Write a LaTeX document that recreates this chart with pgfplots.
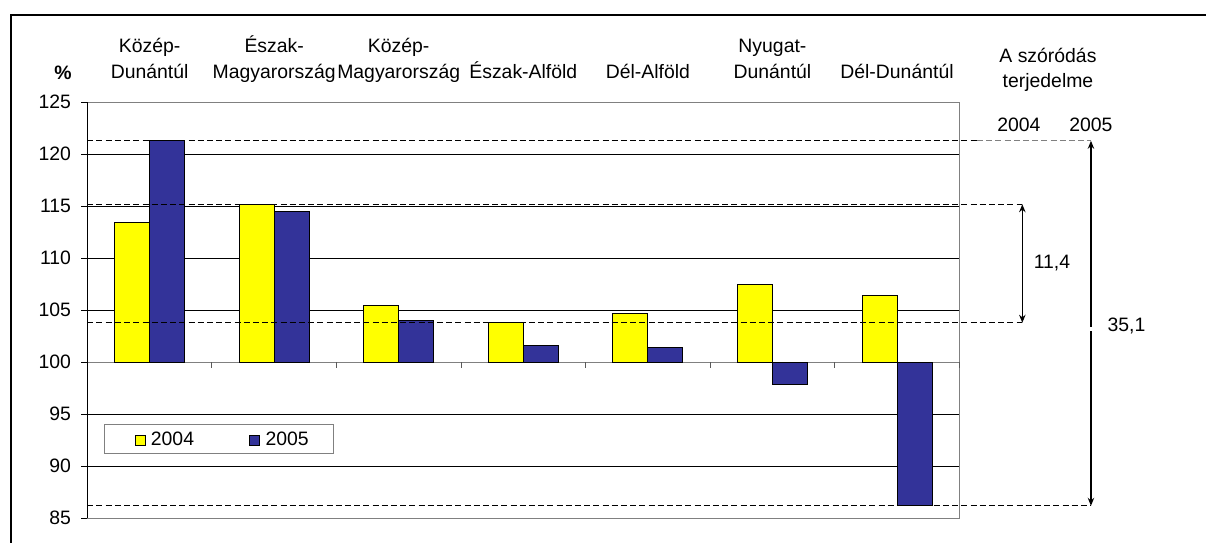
\documentclass[border=0pt]{standalone}
\usepackage{pgfplots}
\pgfplotsset{compat=1.18}
\usepackage{pgfplotstable}
\usepackage{fontspec}
\setmainfont{Liberation Sans}
\usetikzlibrary{arrows.meta}
\definecolor{barY}{RGB}{255,255,0}
\definecolor{barB}{RGB}{51,51,153}
\definecolor{frameGray}{RGB}{128,128,128}
\pgfplotsset{sqleg/.style={legend image code/.code={%
  \path[draw=none,fill=none] (-3pt,-4pt) (7.85pt,10.2pt);
  \draw[##1,line width=0.5pt] (0pt,-0.3pt) rectangle (5pt,4.7pt);}}}
\pgfplotstableread{
x y2004 y2005
0 113.4 121.3
1 115.2 114.5
2 105.5 104.0
3 103.8 101.6
4 104.7 101.4
5 107.5 97.9
6 106.4 86.2
}\datatable
\newcommand{\lblfont}{\fontsize{9.7}{12.85}\selectfont}
\begin{document}
\begin{tikzpicture}
\useasboundingbox (0,0) rectangle (603pt,271pt);
\draw[line width=0.6pt] (5.5pt,-2pt) -- (5.5pt,263.5pt) -- (605pt,263.5pt);
\begin{axis}[
  at={(43.65pt,11.85pt)}, anchor=south west,
  scale only axis, width=436pt, height=208pt,
  clip=false,
  xmin=-0.5, xmax=6.5, ymin=85, ymax=125,
  y coord trafo/.code={\pgfmathparse{#1-100}},
  y coord inv trafo/.code={\pgfmathparse{#1+100}},
  ytick={85,90,95,100,105,110,115,120,125},
  xtick={0,1,2,3,4,5,6},
  xticklabels={{Közép-\\Dunántúl\strut},{Észak-\\Magyarország\strut},{Közép-\\Magyarország\strut},{Észak-Alföld\strut},{Dél-Alföld\strut},{Nyugat-\\Dunántúl\strut},{Dél-Dunántúl\strut}},
  xticklabel pos=upper,
  xticklabel style={align=center, anchor=south, yshift=1.6pt},
  x tick style={draw=none},
  ytick pos=left,
  tick align=outside,
  major tick length=3pt,
  y tick style={black, line width=0.5pt},
  yticklabel style={xshift=-1.6pt},
  tick label style={font=\lblfont},
  /pgf/number format/assume math mode=true,
  axis line style={frameGray, line width=0.6pt},
  ymajorgrids,
  major grid style={black, line width=0.5pt},
  ybar=0pt, bar width=17.5pt,
  legend columns=2,
  legend style={at={(0.0187,0.226)}, anchor=north west, draw=frameGray, line width=0.6pt,
    font=\lblfont, inner xsep=12.5pt, inner ysep=0pt, row sep=0pt,
    cells={anchor=base west},
    nodes={inner xsep=0pt, inner ysep=0pt},
    /tikz/every even column/.append style={column sep=24.9pt}},
]
\draw[frameGray, line width=0.6pt] (axis cs:-0.5,100) -- (axis cs:6.5,100);
\addplot[fill=barY, draw=black, line width=0.5pt, sqleg] table[x=x, y=y2004] {\datatable};
\addlegendentry{2004}
\addplot[fill=barB, draw=black, line width=0.5pt, sqleg] table[x=x, y=y2005] {\datatable};
\addlegendentry{2005}
\draw[black, line width=0.6pt] (axis cs:-0.5,85) -- (axis cs:-0.5,125);
\pgfplotsinvokeforeach{0.5,1.5,2.5,3.5,4.5,5.5,6.5}{
  \draw[frameGray!70!black, line width=0.5pt] (axis cs:#1,100) -- ++(0pt,-3pt);
}
% dashed reference lines
\draw[black, line width=0.5pt, dash pattern=on 3pt off 1.6pt] (axis cs:-0.5,121.3) -- (axis cs:6.642,121.3);
\draw[frameGray, line width=0.4pt, dash pattern=on 3pt off 1.6pt] (axis cs:6.642,121.3) -- (axis cs:7.557,121.3);
\draw[black, line width=0.5pt, dash pattern=on 3pt off 1.6pt] (axis cs:-0.5,115.2) -- (axis cs:7.006,115.2);
\draw[black, line width=0.5pt, dash pattern=on 3pt off 1.6pt] (axis cs:-0.5,103.8) -- (axis cs:7.006,103.8);
\draw[black, line width=0.5pt, dash pattern=on 3pt off 1.6pt] (axis cs:-0.5,86.2) -- (axis cs:7.557,86.2);
% arrows
\draw[line width=0.8pt, {Stealth[length=4pt,width=3.2pt]}-{Stealth[length=4pt,width=3.2pt]}] (axis cs:7.006,115.2) -- (axis cs:7.006,103.8);
\draw[line width=0.8pt, {Stealth[length=4pt,width=3.2pt]}-] (axis cs:7.557,121.3) -- (axis cs:7.557,103.4);
\draw[line width=0.8pt, -{Stealth[length=4pt,width=3.2pt]}] (axis cs:7.557,103.0) -- (axis cs:7.557,86.2);
% texts
\node[font=\lblfont\bfseries, anchor=base] at (axis cs:-0.695,127.24) {\%};
\node[font=\lblfont, anchor=base] at (axis cs:7.212,128.81) {A szóródás};
\node[font=\lblfont, anchor=base] at (axis cs:7.212,126.44) {terjedelme};
\node[font=\lblfont, anchor=base] at (axis cs:6.979,122.17) {2004};
\node[font=\lblfont, anchor=base] at (axis cs:7.557,122.17) {2005};
\node[font=\lblfont, anchor=base] at (axis cs:7.244,109.04) {11,4};
\node[font=\lblfont, anchor=base] at (axis cs:7.842,102.94) {35,1};
\end{axis}
\end{tikzpicture}
\end{document}
